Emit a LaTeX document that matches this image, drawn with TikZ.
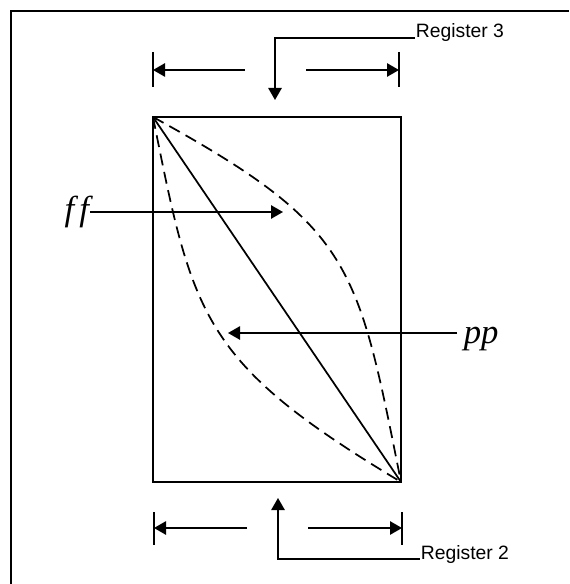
\documentclass[tikz,border=0pt]{standalone}
\usepackage{fontspec}
\setmainfont{Liberation Serif}
\setsansfont{Liberation Sans}
\usetikzlibrary{arrows.meta}

\begin{document}
\begin{tikzpicture}[x=0.75pt, y=-0.75pt, line width=1.3pt,
  every node/.style={inner sep=0pt},
  arr/.style={-{Triangle[length=9pt,width=10pt]}},
  curva/.style={dash pattern=on 9pt off 5pt},
  reg/.style={font=\sffamily\fontsize{14.5}{14.5}\selectfont, anchor=base west},
  lbl/.style={font=\itshape\fontsize{26}{26}\selectfont}]
  \useasboundingbox (0,0) rectangle (569,584);

  % marco exterior
  \draw (11,584) -- (11,11) -- (569,11);

  % caja principal
  \coordinate (tl) at (153,117);
  \coordinate (tr) at (401,117);
  \coordinate (br) at (401,482);
  \coordinate (bl) at (153,482);
  \draw (tl) -- (tr) -- (br) -- (bl) -- cycle;
  \draw (tl) -- (br);
  \draw[curva] (tl) .. controls (353,227) and (357,262) .. (br);
  \draw[curva] (tl) .. controls (193,317) and (201,362) .. (br);

  % cota superior
  \coordinate (t1a) at (153,52);
  \coordinate (t1b) at (153,87);
  \coordinate (t2a) at (399,52);
  \coordinate (t2b) at (399,87);
  \coordinate (t1) at (153,70);
  \coordinate (t2) at (399,70);
  \coordinate (tm1) at (245,70);
  \coordinate (tm2) at (306,70);
  \draw (t1a) -- (t1b);
  \draw (t2a) -- (t2b);
  \draw[arr] (tm1) -- (t1);
  \draw[arr] (tm2) -- (t2);

  % Register 3
  \node[reg] (r3) at (415,38) {Register 3};
  \coordinate (r3t) at (275,100);
  \draw[arr] (r3.base west) -| (r3t);

  % cota inferior
  \coordinate (b1a) at (154,512);
  \coordinate (b1b) at (154,545);
  \coordinate (b2a) at (402,512);
  \coordinate (b2b) at (402,545);
  \coordinate (b1) at (154,528);
  \coordinate (b2) at (402,528);
  \coordinate (bm1) at (247,528);
  \coordinate (bm2) at (308,528);
  \draw (b1a) -- (b1b);
  \draw (b2a) -- (b2b);
  \draw[arr] (bm1) -- (b1);
  \draw[arr] (bm2) -- (b2);

  % Register 2
  \node[reg] (r2) at (420,559) {Register 2};
  \coordinate (r2t) at (278,498);
  \draw[arr] (r2.base west) -| (r2t);

  % etiquetas ff y pp
  \node[lbl, anchor=east] (ff) at (90,212) {f\kern4pt f};
  \coordinate (fft) at (283,212);
  \draw[arr] (ff.east) -- (fft);

  \node[lbl, anchor=base west] (pp) at (463,343) {pp};
  \coordinate (ppt) at (228,333);
  \draw[arr] (pp.west |- ppt) ++(-6,0) -- (ppt);
\end{tikzpicture}
\end{document}
